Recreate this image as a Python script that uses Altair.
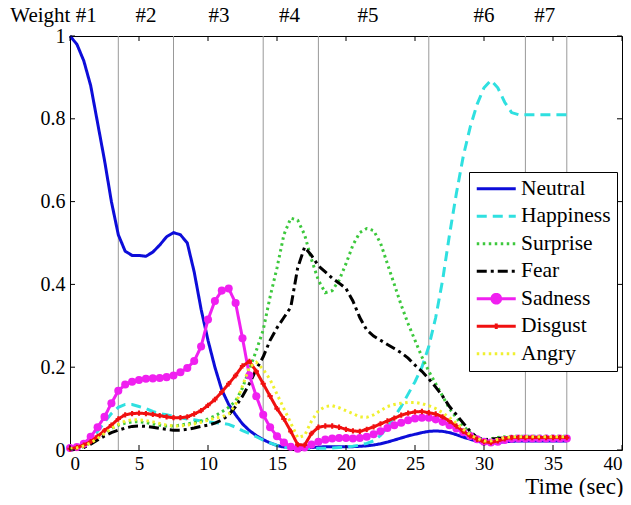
import altair as alt
import pandas as pd

time = [0, 0.5, 1, 1.5, 2, 2.5, 3, 3.5, 4, 4.5, 5, 5.5, 6, 6.5, 7, 7.5, 8, 8.5, 9, 9.5,
        10, 10.5, 11, 11.5, 12, 12.5, 13, 13.5, 14, 14.5, 15, 15.5, 16, 16.5, 17, 17.5,
        18, 18.5, 19, 19.5, 20, 20.5, 21, 21.5, 22, 22.5, 23, 23.5, 24, 24.5, 25, 25.5,
        26, 26.5, 27, 27.5, 28, 28.5, 29, 29.5, 30, 30.5, 31, 31.5, 32, 32.5, 33, 33.5,
        34, 34.5, 35, 35.5, 36]

neutral = [1.0, 0.98, 0.94, 0.88, 0.79, 0.70, 0.60, 0.52, 0.48, 0.47, 0.47, 0.468, 0.478, 0.495,
           0.515, 0.525, 0.52, 0.50, 0.43, 0.34, 0.265, 0.20, 0.145, 0.11, 0.085, 0.063, 0.047,
           0.035, 0.025, 0.017, 0.011, 0.007, 0.005, 0.004, 0.005, 0.006, 0.007, 0.008, 0.008,
           0.008, 0.008, 0.008, 0.009, 0.01, 0.012, 0.015, 0.019, 0.024, 0.029, 0.034, 0.038,
           0.042, 0.045, 0.046, 0.045, 0.042, 0.037, 0.031, 0.026, 0.021, 0.018, 0.017, 0.018,
           0.02, 0.021, 0.022, 0.022, 0.022, 0.022, 0.022, 0.022, 0.022, 0.022]
happiness = [0, 0.003, 0.01, 0.025, 0.045, 0.067, 0.088, 0.103, 0.11, 0.11, 0.105, 0.1, 0.093,
             0.088, 0.085, 0.081, 0.078, 0.075, 0.073, 0.07, 0.068, 0.066, 0.065, 0.062, 0.055,
             0.047, 0.04, 0.032, 0.024, 0.017, 0.011, 0.007, 0.004, 0.003, 0.003, 0.003, 0.004,
             0.004, 0.005, 0.006, 0.007, 0.009, 0.012, 0.016, 0.022, 0.035, 0.055, 0.08, 0.105,
             0.135, 0.165, 0.2, 0.25, 0.32, 0.41, 0.52, 0.62, 0.71, 0.78, 0.835, 0.875, 0.893,
             0.875, 0.84, 0.815, 0.81, 0.81, 0.81, 0.81, 0.81, 0.81, 0.81, 0.81]
surprise = [0, 0.003, 0.008, 0.018, 0.03, 0.042, 0.052, 0.06, 0.065, 0.068, 0.068, 0.066, 0.063,
            0.06, 0.058, 0.058, 0.06, 0.063, 0.066, 0.07, 0.075, 0.082, 0.092, 0.103, 0.118,
            0.15, 0.195, 0.24, 0.29, 0.37, 0.44, 0.52, 0.56, 0.555, 0.52, 0.46, 0.41, 0.38,
            0.385, 0.41, 0.45, 0.495, 0.525, 0.535, 0.53, 0.5, 0.45, 0.4, 0.35, 0.305, 0.265,
            0.225, 0.19, 0.16, 0.13, 0.1, 0.078, 0.058, 0.042, 0.03, 0.025, 0.027, 0.03, 0.032,
            0.033, 0.033, 0.033, 0.033, 0.033, 0.033, 0.033, 0.033, 0.033]
fear = [0, 0.002, 0.006, 0.014, 0.024, 0.034, 0.042, 0.048, 0.053, 0.057, 0.058, 0.057, 0.055,
        0.052, 0.05, 0.048, 0.048, 0.05, 0.053, 0.057, 0.06, 0.065, 0.072, 0.085, 0.105, 0.13,
        0.16, 0.195, 0.225, 0.265, 0.295, 0.32, 0.345, 0.44, 0.49, 0.47, 0.445, 0.43, 0.415,
        0.403, 0.39, 0.36, 0.32, 0.29, 0.275, 0.265, 0.255, 0.245, 0.235, 0.222, 0.205, 0.19,
        0.172, 0.152, 0.13, 0.105, 0.085, 0.065, 0.045, 0.03, 0.025, 0.026, 0.028, 0.03, 0.03,
        0.03, 0.03, 0.03, 0.03, 0.03, 0.03, 0.03, 0.03]
sadness = [0.005, 0.007, 0.015, 0.032, 0.055, 0.08, 0.113, 0.143, 0.158, 0.165, 0.169, 0.172,
           0.173, 0.174, 0.176, 0.18, 0.188, 0.198, 0.215, 0.25, 0.315, 0.36, 0.385, 0.39,
           0.355, 0.27, 0.18, 0.13, 0.085, 0.055, 0.033, 0.018, 0.008, 0.003, 0.006, 0.013,
           0.02, 0.025, 0.028, 0.029, 0.029, 0.028, 0.029, 0.032, 0.038, 0.045, 0.053, 0.06,
           0.066, 0.072, 0.076, 0.078, 0.078, 0.074, 0.068, 0.06, 0.052, 0.043, 0.034, 0.026,
           0.02, 0.018, 0.02, 0.024, 0.027, 0.028, 0.028, 0.028, 0.028, 0.028, 0.028, 0.028, 0.028]
disgust = [0.003, 0.006, 0.012, 0.02, 0.033, 0.047, 0.06, 0.075, 0.085, 0.088, 0.089, 0.088,
           0.086, 0.083, 0.08, 0.078, 0.078, 0.08, 0.087, 0.095, 0.108, 0.122, 0.14, 0.16, 0.18,
           0.203, 0.214, 0.19, 0.16, 0.13, 0.1, 0.075, 0.045, 0.013, 0.012, 0.04, 0.055, 0.058,
           0.058, 0.055, 0.05, 0.046, 0.045, 0.05, 0.056, 0.063, 0.07, 0.077, 0.084, 0.089,
           0.092, 0.093, 0.09, 0.087, 0.08, 0.07, 0.058, 0.045, 0.034, 0.026, 0.02, 0.018, 0.022,
           0.027, 0.03, 0.03, 0.03, 0.03, 0.03, 0.03, 0.03, 0.03, 0.03]
angry = [0.003, 0.005, 0.01, 0.017, 0.028, 0.04, 0.052, 0.062, 0.07, 0.073, 0.073, 0.071, 0.068,
         0.064, 0.06, 0.058, 0.058, 0.06, 0.063, 0.067, 0.072, 0.077, 0.08, 0.087, 0.11, 0.155,
         0.2, 0.212, 0.195, 0.17, 0.135, 0.1, 0.065, 0.03, 0.035, 0.07, 0.095, 0.105, 0.107,
         0.102, 0.095, 0.088, 0.08, 0.079, 0.085, 0.095, 0.105, 0.11, 0.113, 0.115, 0.115,
         0.112, 0.107, 0.1, 0.09, 0.078, 0.065, 0.05, 0.037, 0.028, 0.022, 0.022, 0.026, 0.03,
         0.032, 0.032, 0.032, 0.032, 0.032, 0.032, 0.032, 0.032, 0.032]

series_names = ["Neutral", "Happiness", "Surprise", "Fear", "Sadness", "Disgust", "Angry"]
series_values = [neutral, happiness, surprise, fear, sadness, disgust, angry]
series_colors = ["#0d0dd9", "#2fe0e0", "#3cc83c", "#000000", "#f020f0", "#f01010", "#f0f030"]
series_dashes = [[1, 0], [10, 6], [2.5, 3.5], [10, 4, 3, 4], [1, 0], [1, 0], [2.5, 3.5]]

weight_x = [-1.2, 5.5, 10.8, 15.9, 21.6, 30.0, 34.4]
weight_labels = ["Weight #1", "#2", "#3", "#4", "#5", "#6", "#7"]
segment_lines = [3.5, 7.5, 14, 18, 26, 33, 36]
x_ticks = [0, 5, 10, 15, 20, 25, 30, 35, 40]
y_ticks = [0, 0.2, 0.4, 0.6, 0.8, 1.0]

W, H = 552, 414
FONT = "Liberation Serif"

rows = []
for name, vals in zip(series_names, series_values):
    for t, v in zip(time, vals):
        rows.append({"t": t, "v": v, "series": name})
df = pd.DataFrame(rows)

xs = alt.Scale(domain=[0, 40], nice=False, zero=False)
ys = alt.Scale(domain=[0, 1], nice=False)

x_axis = alt.Axis(values=x_ticks, ticks=False, domain=False, grid=False, labelFont=FONT,
                  labelFontSize=19, labelColor="black", labelPadding=4,
                  title="Time (sec)", titleFont=FONT, titleFontSize=23,
                  titleFontWeight="normal", titleColor="black", titleAlign="right",
                  titleAnchor="end", titleX=553, titleY=43, titleBaseline="alphabetic")
y_axis = alt.Axis(values=y_ticks, ticks=False, domain=False, grid=False, labelFont=FONT,
                  labelFontSize=20, labelColor="black", labelPadding=5, format="~g",
                  title=None)

line_path = "M-6.5,0H6.5"
sad_path = "M-6.5,0H6.5M1.45,0A1.45,1.45,0,1,1,-1.45,0A1.45,1.45,0,1,1,1.45,0Z"
dis_path = "M-6.5,0H6.5M0,-0.9V0.9"
legend_shapes = [line_path, line_path, line_path, line_path, sad_path, dis_path, line_path]

legend = alt.Legend(
    title=None, orient="none", legendX=399, legendY=136, padding=6,
    strokeColor="black", fillColor="white", cornerRadius=0,
    labelFont=FONT, labelFontSize=21.5, labelColor="black", labelLimit=300,
    symbolType=line_path, symbolSize=36, symbolStrokeWidth=3,
    symbolOffset=10.5, labelOffset=14, rowPadding=4.5,
)

color = alt.Color("series:N", scale=alt.Scale(domain=series_names, range=series_colors),
                  legend=legend, sort=series_names)
dash = alt.StrokeDash("series:N", scale=alt.Scale(domain=series_names, range=series_dashes),
                      legend=legend, sort=series_names)
shape = alt.Shape("series:N", scale=alt.Scale(domain=series_names, range=legend_shapes),
                  legend=legend, sort=series_names)

layers = []

vl = alt.Chart(pd.DataFrame({"x": segment_lines})).mark_rule(color="#999999", strokeWidth=1).encode(
    x=alt.X("x:Q", scale=xs, axis=x_axis))
layers.append(vl)

for name in series_names:
    sub = df[df.series == name]
    base = alt.Chart(sub)
    layers.append(base.mark_line(strokeWidth=3).encode(
        x=alt.X("t:Q", scale=xs, axis=x_axis),
        y=alt.Y("v:Q", scale=ys, axis=y_axis),
        color=color, strokeDash=dash))
    if name == "Sadness":
        layers.append(base.mark_point(shape="circle", filled=True, size=65, opacity=1,
                                      color="#f020f0").encode(
            x=alt.X("t:Q", scale=xs), y=alt.Y("v:Q", scale=ys)))
    if name == "Disgust":
        layers.append(base.mark_point(shape="cross", filled=True, size=28, opacity=1,
                                      color="#f01010").encode(
            x=alt.X("t:Q", scale=xs), y=alt.Y("v:Q", scale=ys)))

# legend-only layer (no rows drawn) carrying the marker shapes for the legend
layers.append(alt.Chart(df).transform_filter("datum.v > 5").mark_point(
    filled=True, opacity=1, strokeWidth=3).encode(
    x=alt.X("t:Q", scale=xs), y=alt.Y("v:Q", scale=ys),
    color=color, strokeDash=dash, shape=shape))

xt = pd.DataFrame({"x": x_ticks})
yt = pd.DataFrame({"y": y_ticks})
layers.append(alt.Chart(xt).mark_rule(color="black", strokeWidth=1).encode(
    x=alt.X("x:Q", scale=xs), y=alt.value(0), y2=alt.value(5)))
layers.append(alt.Chart(xt).mark_rule(color="black", strokeWidth=1).encode(
    x=alt.X("x:Q", scale=xs), y=alt.value(H - 5), y2=alt.value(H)))
layers.append(alt.Chart(yt).mark_rule(color="black", strokeWidth=1).encode(
    y=alt.Y("y:Q", scale=ys), x=alt.value(0), x2=alt.value(5)))
layers.append(alt.Chart(yt).mark_rule(color="black", strokeWidth=1).encode(
    y=alt.Y("y:Q", scale=ys), x=alt.value(W - 5), x2=alt.value(W)))

top = alt.Chart(pd.DataFrame({"x": weight_x, "label": weight_labels})).mark_text(
    font=FONT, fontSize=21, color="black", baseline="alphabetic", align="center").encode(
    x=alt.X("x:Q", scale=xs), y=alt.value(-14), text="label:N")
layers.append(top)

chart = alt.layer(*layers).properties(
    width=W, height=H,
    autosize=alt.AutoSizeParams(type="none"),
    padding={"left": 62, "top": 28, "right": 1, "bottom": 47},
    background="white",
).configure_view(stroke="black", strokeWidth=1)

chart.save("out.html", embed_options={"renderer": "svg", "actions": False})
